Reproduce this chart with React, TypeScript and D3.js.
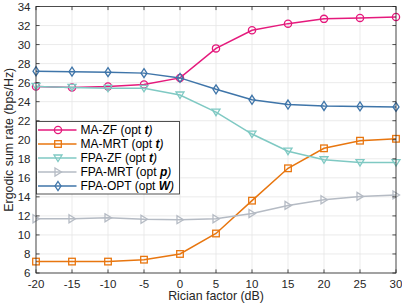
import React from 'react';
import * as d3 from 'd3';

const ricianDb = [-20, -15, -10, -5, 0, 5, 10, 15, 20, 25, 30];
const maZf = [25.6, 25.5, 25.6, 25.8, 26.5, 29.6, 31.5, 32.2, 32.7, 32.8, 32.9];
const maMrt = [7.2, 7.2, 7.2, 7.4, 8.0, 10.15, 13.6, 17.0, 19.1, 19.9, 20.1];
const fpaZf = [25.6, 25.5, 25.4, 25.4, 24.7, 22.9, 20.6, 18.8, 17.9, 17.6, 17.6];
const fpaMrt = [11.7, 11.7, 11.8, 11.65, 11.6, 11.7, 12.25, 13.1, 13.7, 14.05, 14.2];
const fpaOpt = [27.2, 27.15, 27.1, 27.0, 26.5, 25.3, 24.2, 23.7, 23.55, 23.5, 23.45];
const yTicks = [6, 8, 10, 12, 14, 16, 18, 20, 22, 24, 26, 28, 30, 32, 34];

interface Series {
  name: string;
  opt: string;
  values: number[];
  color: string;
  marker: 'circle' | 'square' | 'tridown' | 'triright' | 'diamond';
}

const series: Series[] = [
  { name: 'MA-ZF', opt: 't', values: maZf, color: '#e5197c', marker: 'circle' },
  { name: 'MA-MRT', opt: 't', values: maMrt, color: '#e8760f', marker: 'square' },
  { name: 'FPA-ZF', opt: 't', values: fpaZf, color: '#7fc9c3', marker: 'tridown' },
  { name: 'FPA-MRT', opt: 'p', values: fpaMrt, color: '#b5bbc4', marker: 'triright' },
  { name: 'FPA-OPT', opt: 'W', values: fpaOpt, color: '#3f75a9', marker: 'diamond' },
];

const W = 402;
const H = 305;
const margin = { top: 6.5, right: 6, bottom: 32, left: 36 };
const FONT = 'Liberation Sans, Arial, sans-serif';

const Marker: React.FC<{ kind: Series['marker']; x: number; y: number; color: string }> = ({ kind, x, y, color }) => {
  const common = { fill: 'none', stroke: color, strokeWidth: 1.3 };
  if (kind === 'circle') return <circle cx={x} cy={y} r={3.6} {...common} />;
  if (kind === 'square') return <rect x={x - 3.3} y={y - 3.3} width={6.6} height={6.6} {...common} />;
  if (kind === 'tridown')
    return <path d={`M${x - 4},${y - 3} L${x + 4},${y - 3} L${x},${y + 3.5} Z`} {...common} />;
  if (kind === 'triright')
    return <path d={`M${x - 3},${y - 4} L${x + 3.5},${y} L${x - 3},${y + 4} Z`} {...common} />;
  return <path d={`M${x},${y - 4.5} L${x + 3},${y} L${x},${y + 4.5} L${x - 3},${y} Z`} {...common} />;
};

const App: React.FC = () => {
  const x = d3.scaleLinear().domain([-20, 30]).range([margin.left, W - margin.right]);
  const y = d3.scaleLinear().domain([6, 34]).range([H - margin.bottom, margin.top]);
  const line = d3
    .line<number>()
    .x((_, i) => x(ricianDb[i]))
    .y((d) => y(d));

  const x0 = x(-20);
  const x1 = x(30);
  const y0 = y(6);
  const y1 = y(34);

  // legend box
  const lg = { x: x0 + 0.5, y: 121.5, w: 143, rowH: 14 };

  return (
    <svg
      width={W}
      height={H}
      style={{ position: 'absolute', left: 0, top: 0, background: '#fff' }}
      fontFamily={FONT}
    >
      {/* grid */}
      <g stroke="#e6e6e6" strokeWidth={0.8}>
        {ricianDb.map((t) => (
          <line key={'gx' + t} x1={x(t)} x2={x(t)} y1={y0} y2={y1} />
        ))}
        {yTicks.map((t) => (
          <line key={'gy' + t} x1={x0} x2={x1} y1={y(t)} y2={y(t)} />
        ))}
      </g>

      {/* series */}
      {series.map((s) => (
        <g key={s.name}>
          <path d={line(s.values) || ''} fill="none" stroke={s.color} strokeWidth={1.5} />
          {s.values.map((v, i) => (
            <Marker key={i} kind={s.marker} x={x(ricianDb[i])} y={y(v)} color={s.color} />
          ))}
        </g>
      ))}

      {/* axes box and ticks */}
      <rect x={x0} y={y1} width={x1 - x0} height={y0 - y1} fill="none" stroke="#262626" strokeWidth={0.8} />
      <g stroke="#262626" strokeWidth={0.8}>
        {ricianDb.map((t) => (
          <g key={'tx' + t}>
            <line x1={x(t)} x2={x(t)} y1={y0} y2={y0 - 3.6} />
            <line x1={x(t)} x2={x(t)} y1={y1} y2={y1 + 3.6} />
          </g>
        ))}
        {yTicks.map((t) => (
          <g key={'ty' + t}>
            <line x1={x0} x2={x0 + 3.6} y1={y(t)} y2={y(t)} />
            <line x1={x1} x2={x1 - 3.6} y1={y(t)} y2={y(t)} />
          </g>
        ))}
      </g>
      <g fontSize={11.5} fill="#262626">
        {ricianDb.map((t) => (
          <text key={'lx' + t} x={x(t)} y={y0 + 15} textAnchor="middle">
            {t}
          </text>
        ))}
        {yTicks.map((t) => (
          <text key={'ly' + t} x={x0 - 5.5} y={y(t) + 4} textAnchor="end">
            {t}
          </text>
        ))}
      </g>
      <text x={(x0 + x1) / 2} y={H - 5} fontSize={12.4} textAnchor="middle" fill="#262626">
        Rician factor (dB)
      </text>
      <text
        transform={`translate(13,${(y0 + y1) / 2}) rotate(-90)`}
        fontSize={12.4}
        textAnchor="middle"
        fill="#262626"
      >
        Ergodic sum rate (bps/Hz)
      </text>

      {/* legend */}
      <rect
        x={lg.x}
        y={lg.y}
        width={lg.w}
        height={lg.rowH * series.length + 2.5}
        fill="#fff"
        stroke="#262626"
        strokeWidth={0.8}
      />
      {series.map((s, i) => {
        const cy = lg.y + 8.5 + i * lg.rowH;
        return (
          <g key={'lg' + s.name}>
            <line x1={lg.x + 1.5} x2={lg.x + 40} y1={cy} y2={cy} stroke={s.color} strokeWidth={1.5} />
            <Marker kind={s.marker} x={lg.x + 21.5} y={cy} color={s.color} />
            <text x={lg.x + 44} y={cy + 4.2} fontSize={12} fill="#000">
              {s.name} (opt{' '}
              <tspan fontWeight="bold" fontStyle="italic">
                {s.opt}
              </tspan>
              <tspan fontStyle="italic">)</tspan>
            </text>
          </g>
        );
      })}
    </svg>
  );
};

export default App;
